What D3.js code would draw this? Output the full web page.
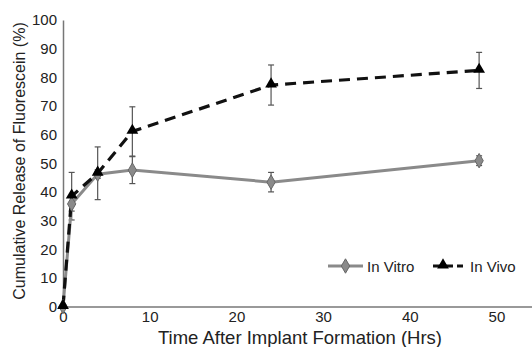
<!DOCTYPE html>
<html>
<head>
<meta charset="utf-8">
<script src="https://cdnjs.cloudflare.com/ajax/libs/d3/7.8.5/d3.min.js"></script>
<style>
  body { margin: 0; background: #fff; }
  svg { display: block; font-family: "Liberation Sans", Arial, Helvetica, sans-serif; }
</style>
</head>
<body>
<svg id="chart"></svg>
<script>
// time points (hours)
const hours = [0, 1, 4, 8, 24, 48];
// cumulative release (%) and error (+/-)
const inVitro = [0, 35.8, 46.2, 47.6, 43.4, 50.9];
const inVitroErr = [0, 2.5, 1.5, 4.7, 3.4, 1.7];
const inVivo = [0, 38.5, 46.5, 61.1, 77.3, 82.4];
const inVivoErr = [0, 8.3, 9.2, 8.6, 7, 6.3];
const xTicks = [0, 10, 20, 30, 40, 50];
const yTicks = [0, 10, 20, 30, 40, 50, 60, 70, 80, 90, 100];
const seriesNames = ["In Vitro", "In Vivo"];

function main() {
  const width = 532, height = 347;
  const svg = d3.select("#chart").attr("width", width).attr("height", height);

  const x = d3.scaleLinear().domain([0, 54.1]).range([63, 532]);
  const y = d3.scaleLinear().domain([0, 100]).range([306.5, 20]);

  // y axis
  const yAxis = svg.append("g")
    .attr("transform", `translate(${x(0)},0)`)
    .call(d3.axisLeft(y).tickValues(yTicks).tickSize(0).tickPadding(6));
  yAxis.select(".domain").attr("stroke", "#777").attr("stroke-width", 1.5);
  yAxis.selectAll("text").attr("font-size", 15).attr("fill", "#222")
    .attr("font-family", "'Liberation Sans', Arial, sans-serif");

  // x axis
  const xAxis = svg.append("g")
    .attr("transform", `translate(0,${y(0)})`)
    .call(d3.axisBottom(x).tickValues(xTicks).tickSize(0).tickPadding(5));
  xAxis.select(".domain").attr("stroke", "#777").attr("stroke-width", 1.5);
  xAxis.selectAll("text").attr("font-size", 15).attr("fill", "#222")
    .attr("font-family", "'Liberation Sans', Arial, sans-serif");

  // axis titles
  svg.append("text")
    .attr("x", 300).attr("y", 344)
    .attr("text-anchor", "middle")
    .attr("font-size", 18.5).attr("fill", "#222")
    .text("Time After Implant Formation (Hrs)");

  svg.append("text")
    .attr("transform", "translate(25,161) rotate(-90)")
    .attr("text-anchor", "middle")
    .attr("font-size", 16).attr("fill", "#222")
    .text("Cumulative Release of Fluorescein (%)");

  const line = d3.line().x(d => x(d[0])).y(d => y(d[1]));
  const vitroPts = hours.map((h, i) => [h, inVitro[i], inVitroErr[i]]);
  const vivoPts = hours.map((h, i) => [h, inVivo[i], inVivoErr[i]]);

  // error bars
  function errorBars(pts) {
    const g = svg.append("g").attr("stroke", "#555").attr("stroke-width", 1.2);
    pts.filter(d => d[2] > 0).forEach(d => {
      const cx = x(d[0]);
      g.append("line").attr("x1", cx).attr("x2", cx)
        .attr("y1", y(d[1] - d[2])).attr("y2", y(d[1] + d[2]));
      [d[1] - d[2], d[1] + d[2]].forEach(v => {
        g.append("line").attr("x1", cx - 3).attr("x2", cx + 3)
          .attr("y1", y(v)).attr("y2", y(v));
      });
    });
  }

  errorBars(vitroPts);
  errorBars(vivoPts);

  // in vitro line
  svg.append("path").datum(vitroPts)
    .attr("d", line)
    .attr("fill", "none").attr("stroke", "#8a8a8a").attr("stroke-width", 3);

  // in vivo line
  svg.append("path").datum(vivoPts)
    .attr("d", line)
    .attr("fill", "none").attr("stroke", "#111").attr("stroke-width", 3.2)
    .attr("stroke-dasharray", "11,7");

  const diamond = d3.symbol().type(d3.symbolDiamond).size(60);
  const triangle = d3.symbol().type(d3.symbolTriangle).size(60);

  svg.append("g").selectAll("path")
    .data(vitroPts).enter().append("path")
    .attr("d", diamond)
    .attr("transform", d => `translate(${x(d[0])},${y(d[1])})`)
    .attr("fill", "#8a8a8a").attr("stroke", "#666").attr("stroke-width", 1);

  svg.append("g").selectAll("path")
    .data(vivoPts).enter().append("path")
    .attr("d", triangle)
    .attr("transform", d => `translate(${x(d[0])},${y(d[1]) - 1})`)
    .attr("fill", "#000");

  // legend
  const leg = svg.append("g").attr("font-size", 15).attr("fill", "#222");
  leg.append("line").attr("x1", 328).attr("x2", 363).attr("y1", 266).attr("y2", 266)
    .attr("stroke", "#8a8a8a").attr("stroke-width", 3);
  leg.append("path").attr("d", diamond).attr("transform", "translate(345.5,266)")
    .attr("fill", "#8a8a8a").attr("stroke", "#666");
  leg.append("text").attr("x", 367).attr("y", 271.5).text(seriesNames[0]);

  leg.append("line").attr("x1", 433).attr("x2", 463).attr("y1", 266).attr("y2", 266)
    .attr("stroke", "#111").attr("stroke-width", 3.2).attr("stroke-dasharray", "8,4");
  leg.append("path").attr("d", triangle).attr("transform", "translate(443,265)")
    .attr("fill", "#000");
  leg.append("text").attr("x", 470).attr("y", 271.5).text(seriesNames[1]);
}

window.addEventListener("load", main);
</script>
</body>
</html>
